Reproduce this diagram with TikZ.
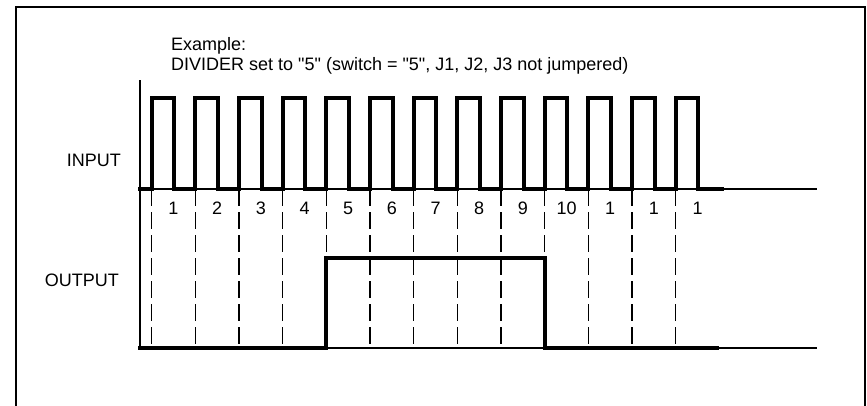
\documentclass[tikz,border=0pt]{standalone}
\usepackage{fontspec}
\setmainfont{Liberation Sans}[Ligatures=TeXOff]
\begin{document}
\begin{tikzpicture}[x=1pt,y=-1pt,
  wave/.style={line width=4pt,line join=miter,line cap=rect},
  thinline/.style={line width=1.4pt},
  dashline/.style={line width=1.4pt,dash pattern=on 17pt off 6pt},
  frame/.style={line width=2pt},
  lbl/.style={font=\fontsize{18}{18}\selectfont,inner sep=0pt},
  numlbl/.style={font=\fontsize{18}{18}\selectfont,inner sep=0pt}]
\useasboundingbox (0,0) rectangle (867,405);
\clip (0,0) rectangle (867,405);
% frame
\draw[frame] (15.5,420) -- (15.5,6.5) -- (864.5,6.5) -- (864.5,420);
% title
\node[lbl,anchor=base west] (t1) at (171,50) {Example:};
\node[lbl,anchor=base west] (t2) at (171,70) {DIVIDER set to "5" (switch = "5", J1, J2, J3 not jumpered)};
% axis
\draw[line width=1.3pt] (140,80) -- (140,348);
% labels
\node[lbl,anchor=east] (in) at (121,160) {INPUT};
\node[lbl,anchor=east] (out) at (119,280) {OUTPUT};
% baselines
\draw[thinline] (140,189) -- (816.7,189);
\draw[thinline] (140,348) -- (816.7,348);
% dashed lines and numbers
\foreach \k in {0,...,12} {
  \draw[dashline] ({151.7+\k*43.67},189) -- ({151.7+\k*43.67},348);
}
\foreach \n [count=\k from 0] in {1,2,3,4,5,6,7,8,9,10,1,1,1} {
  \node[numlbl] (n\k) at ({173.5+\k*43.67},208.5) {\n};
}
% input wave
\draw[wave] (140,189)
  \foreach \k in {0,...,12} { -- ({151.7+\k*43.67},189) -- ++(0,-91) -- ++(22.6,0) -- ++(0,91) }
  -- (721.7,189);
% output wave
\draw[wave] (140,348) -- (326.4,348) -- (326.4,257.5) -- (544.7,257.5) -- (544.7,348) -- (716.7,348);
\end{tikzpicture}
\end{document}
